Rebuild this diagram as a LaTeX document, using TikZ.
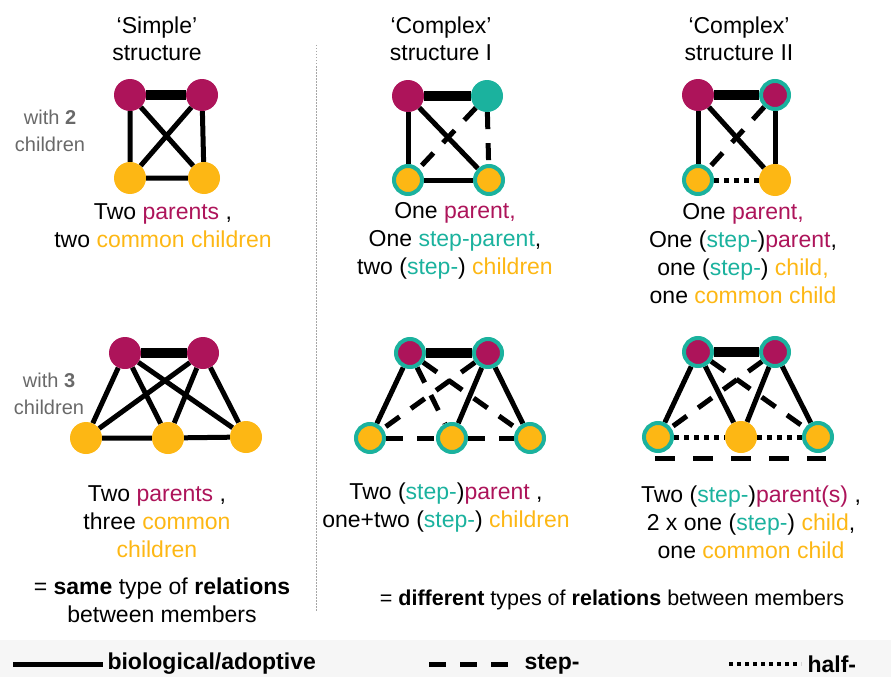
\documentclass[tikz,border=0pt]{standalone}
\usepackage{fontspec}
\setmainfont{Liberation Sans}
\usetikzlibrary{shapes}
\definecolor{parentcol}{RGB}{173,20,90}
\definecolor{stepcol}{RGB}{27,178,158}
\definecolor{childcol}{RGB}{253,183,20}
\definecolor{notecol}{RGB}{105,105,105}
\pgfdeclarelayer{background}
\pgfsetlayers{background,main}
\tikzstyle{parent}=[circle,fill=parentcol,minimum size=32pt,inner sep=0pt]

\begin{document}
\begin{tikzpicture}[x=1pt,y=-1pt]
    \tikzstyle{parent}=[circle,fill=parentcol,minimum size=32pt,inner sep=0pt]
    \tikzstyle{steppar}=[circle,fill=parentcol,draw=stepcol,line width=4pt,minimum size=28pt,inner sep=0pt]
    \tikzstyle{stepnode}=[circle,fill=stepcol,minimum size=32pt,inner sep=0pt]
    \tikzstyle{child}=[circle,fill=childcol,minimum size=32pt,inner sep=0pt]
    \tikzstyle{stepchild}=[circle,fill=childcol,draw=stepcol,line width=4pt,minimum size=28pt,inner sep=0pt]
    \tikzstyle{bio}=[line width=5pt]
    \tikzstyle{couple}=[line width=10pt]
    \tikzstyle{stepline}=[line width=5pt,dash pattern=on 17pt off 14pt]
    \tikzstyle{halfline}=[line width=5pt,dash pattern=on 5pt off 5pt]
    \tikzstyle{txt}=[align=center,font=\fontsize{23}{28}\selectfont]
    \tikzstyle{head}=[align=center,font=\fontsize{23}{27}\selectfont]
    \tikzstyle{note}=[align=center,text=notecol,font=\fontsize{20}{27}\selectfont]
    \tikzstyle{key}=[anchor=west,font=\fontsize{23}{26}\selectfont\bfseries]
    \useasboundingbox (0,0) rectangle (891,677);
    \fill[gray!7] (0,640) rectangle (891,677);
    \coordinate (D1) at (316,45);
    \coordinate (D2) at (316,612);
    \draw[gray!70,line width=0.8pt,dash pattern=on 1.5pt off 1.5pt] (D1) -- (D2);

    \node[head] (HS) at (157,39) {‘Simple’\\structure};
    \node[head] (HA) at (441,39) {‘Complex’\\structure I};
    \node[head] (HB) at (739,39) {‘Complex’\\structure II};
    \node[note] (N2) at (50,131) {with \textbf{2}\\children};
    \node[note] (N3) at (49,394) {with \textbf{3}\\children};

    \node[parent] (SP1) at (130,95) {};
    \node[parent] (SP2) at (202,95) {};
    \node[child] (SC1) at (130,178) {};
    \node[child] (SC2) at (204,178) {};

    \node[parent] (AP1) at (408,96) {};
    \node[stepnode] (AP2) at (487,96) {};
    \node[stepchild] (AC1) at (408,180) {};
    \node[stepchild] (AC2) at (489,180) {};

    \node[parent] (BP1) at (698,95) {};
    \node[steppar] (BP2) at (775,95) {};
    \node[stepchild] (BC1) at (698,180) {};
    \node[child] (BC2) at (775,180) {};

    \node[parent] (TP1) at (125,353) {};
    \node[parent] (TP2) at (203,353) {};
    \node[child] (TC1) at (86,438) {};
    \node[child] (TC2) at (168,438) {};
    \node[child] (TC3) at (246,437) {};

    \node[steppar] (UP1) at (410,353) {};
    \node[steppar] (UP2) at (488,353) {};
    \node[stepchild] (UC1) at (370,438) {};
    \node[stepchild] (UC2) at (452,438) {};
    \node[stepchild] (UC3) at (530,438) {};

    \node[steppar] (VP1) at (698,352) {};
    \node[steppar] (VP2) at (775,352) {};
    \node[stepchild] (VC1) at (658,437) {};
    \node[child] (VC2) at (741,437) {};
    \node[stepchild] (VC3) at (818,437) {};
    \coordinate (V1) at (655,458);
    \coordinate (V2) at (826,458);

    \begin{pgfonlayer}{background}
    \draw[couple] (SP1) -- (SP2);
    \draw[bio] (SP1) -- (SC1) -- (SC2) -- (SP2);
    \draw[bio] (SP1) -- (SC2) (SP2) -- (SC1);

    \draw[couple] (AP1) -- (AP2);
    \draw[bio] (AP1) -- (AC1) -- (AC2);
    \draw[bio] (AP1) -- (AC2);
    \draw[stepline] (AP2) -- (AC2);
    \draw[stepline] (AP2) -- (AC1);

    \draw[couple] (BP1) -- (BP2);
    \draw[bio] (BP1) -- (BC1);
    \draw[bio] (BP2) -- (BC2);
    \draw[bio] (BP1) -- (BC2);
    \draw[stepline] (BP2) -- (BC1);
    \draw[halfline] (BC1) -- (BC2);

    \draw[couple] (TP1) -- (TP2);
    \foreach \p in {TP1,TP2}
        \foreach \c in {TC1,TC2,TC3}
            \draw[bio] (\p) -- (\c);
    \draw[bio] (TC1) -- (TC2) -- (TC3);

    \draw[couple] (UP1) -- (UP2);
    \draw[bio] (UP1) -- (UC1);
    \draw[bio] (UP2) -- (UC2);
    \draw[bio] (UP2) -- (UC3);
    \draw[stepline] (UP1) -- (UC2);
    \draw[stepline] (UP1) -- (UC3);
    \draw[stepline] (UP2) -- (UC1);
    \draw[stepline] (UC1) -- (UC2);
    \draw[stepline] (UC2) -- (UC3);

    \draw[couple] (VP1) -- (VP2);
    \draw[bio] (VP1) -- (VC1);
    \draw[bio] (VP1) -- (VC2);
    \draw[bio] (VP2) -- (VC2);
    \draw[bio] (VP2) -- (VC3);
    \draw[stepline] (VP2) -- (VC1);
    \draw[stepline] (VP1) -- (VC3);
    \draw[halfline] (VC1) -- (VC2);
    \draw[halfline] (VC2) -- (VC3);
    \draw[stepline,dash pattern=on 20pt off 18pt] (V1) -- (V2);
    \end{pgfonlayer}

    \node[txt] (LS) at (163,226) {Two \textcolor{parentcol}{parents} ,\\two \textcolor{childcol}{common children}};
    \node[txt] (LA) at (455,241) {One \textcolor{parentcol}{parent,}\\One \textcolor{stepcol}{step-parent},\\two (\textcolor{stepcol}{step-}) \textcolor{childcol}{children}};
    \node[txt] (LB) at (743,254) {One \textcolor{parentcol}{parent,}\\One (\textcolor{stepcol}{step-})\textcolor{parentcol}{parent},\\one (\textcolor{stepcol}{step-}) \textcolor{childcol}{child,}\\one \textcolor{childcol}{common child}};
    \node[txt] (LT) at (157,522) {Two \textcolor{parentcol}{parents} ,\\three \textcolor{childcol}{common}\\\textcolor{childcol}{children}};
    \node[txt] (LU) at (446,508) {Two (\textcolor{stepcol}{step-})\textcolor{parentcol}{parent} ,\\one+two (\textcolor{stepcol}{step-}) \textcolor{childcol}{children}};
    \node[txt] (LV) at (751,522) {Two (\textcolor{stepcol}{step-})\textcolor{parentcol}{parent(s)} ,\\2 x one (\textcolor{stepcol}{step-}) \textcolor{childcol}{child},\\one \textcolor{childcol}{common child}};
    \node[txt] (RS) at (162,600) {= \textbf{same} type of \textbf{relations}\\between members};
    \node[txt,font=\fontsize{21.5}{28}\selectfont] (RD) at (612,600) {= \textbf{different} types of \textbf{relations} between members};

    \coordinate (K1) at (13,664);
    \coordinate (K2) at (103,664);
    \coordinate (K3) at (429,664);
    \coordinate (K4) at (520,664);
    \coordinate (K5) at (729,664);
    \coordinate (K6) at (801,664);
    \draw[bio] (K1) -- (K2);
    \draw[line width=5pt,dash pattern=on 17pt off 14pt] (K3) -- (K4);
    \draw[line width=4pt,dash pattern=on 4pt off 4pt] (K5) -- (K6);
    \node[key] (KB) at (104,664) {biological/adoptive};
    \node[key] (KS) at (521,664) {step-};
    \node[key] (KH) at (804,664) {half-};
\end{tikzpicture}
\end{document}
